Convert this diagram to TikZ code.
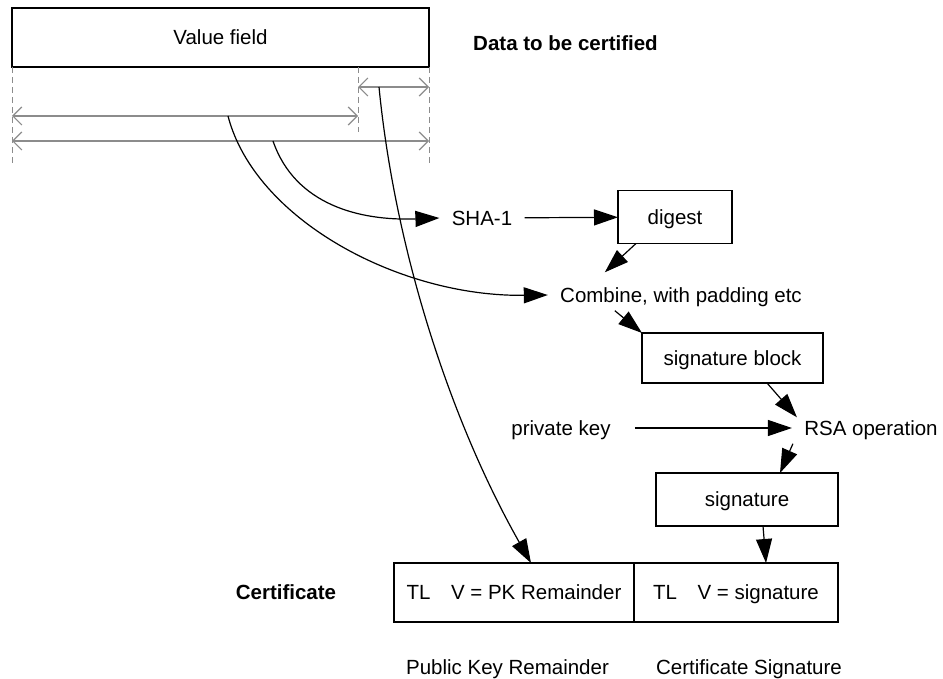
\documentclass[tikz,border=0pt]{standalone}
\usepackage{fontspec}
\setmainfont{Liberation Sans}
\usetikzlibrary{arrows.meta,positioning}

\begin{document}
\begin{tikzpicture}[x=0.5pt, y=-0.5pt,
			every node/.style={font=\fontsize{10.25}{12}\selectfont},
			box/.style={draw, line width=0.8pt, inner sep=0pt, outer sep=0pt, text height=7.3pt, text depth=0pt},
			lbl/.style={inner sep=0pt, text height=7.3pt, text depth=0pt},
			head/.style={lbl, font=\fontsize{10.25}{12}\selectfont\bfseries},
			ar/.style={-{Triangle[length=12pt,width=8pt]}, line width=0.6pt},
			dim/.style={{Straight Barb[length=4.5pt,width=9pt]}-{Straight Barb[length=4.5pt,width=9pt]}, draw=black!45, line width=0.6pt},
			ext/.style={draw=black!45, dash pattern=on 3pt off 2pt, line width=0.5pt}]
			\useasboundingbox (0,0) rectangle (943,679);
			\node[box, minimum width=208.5pt, minimum height=29.5pt] (value) at (220.5,37.5) {Value field};
			\node[head] (data) at (565.5,43) {Data to be certified};
			\coordinate (split) at (358,67);
			\coordinate (pkL) at (358,87);
			\coordinate (pkR) at (429,87);
			\coordinate (valL) at (12,116);
			\coordinate (valR) at (358,116);
			\coordinate (allL) at (12,141);
			\coordinate (allR) at (429,141);
			\coordinate (tapA) at (273,141);
			\coordinate (tapB) at (228,116);
			\coordinate (tapC) at (379,87);
			\draw[ext] (value.south west) -- ++(0,96);
			\draw[ext] (split) -- ++(0,65);
			\draw[ext] (value.south east) -- ++(0,97);
			\draw[dim] (pkL) -- (pkR);
			\draw[dim] (valL) -- (valR);
			\draw[dim] (allL) -- (allR);
			\node[lbl, inner xsep=6pt] (sha) at (482,218) {SHA-1};
			\node[box, minimum width=57pt, minimum height=26.5pt] (digest) at (675,217) {digest};
			\node[lbl, inner xsep=6pt] (combine) at (681,295) {Combine, with padding etc};
			\node[box, minimum width=90.5pt, minimum height=25pt] (sigblock) at (732.5,358) {signature block};
			\node[lbl] (privkey) at (561,428) {private key};
			\node[lbl, inner xsep=6pt] (rsa) at (871,428) {RSA operation};
			\node[box, minimum width=91pt, minimum height=26.5pt] (signature) at (747,499.5) {signature};
			\node[box, minimum width=120pt, minimum height=29.5pt] (pkrem) at (514,592.5) {TL\quad V = PK Remainder};
			\node[box, minimum width=102pt, minimum height=29.5pt, anchor=west] (sigtl) at (pkrem.east) {TL\quad V = signature};
			\node[head] (cert) at (286,592.5) {Certificate};
			\node[lbl] (pkcap) at (507.5,667) {Public Key Remainder};
			\node[lbl] (sigcap) at (749,667) {Certificate Signature};
			\draw[ar] (tapA) .. controls (295,205) and (360,221) .. (sha.west);
			\draw[ar] (tapB) .. controls (255,220) and (400,297) .. (combine.west);
			\draw[ar] (tapC) .. controls (395,250) and (450,420) .. ([shift={(17,0)}]pkrem.north);
			\draw[ar] (sha) -- (digest);
			\draw[ar] ([shift={(18,0)}]digest.south west) -- ([shift={(57,-15)}]combine.north west);
			\draw[ar] ([shift={(67,8)}]combine.south west) -- (sigblock.north west);
			\draw[ar] ([shift={(34.5,0)}]sigblock.south) -- ([shift={(5,-3)}]rsa.north west);
			\draw[ar] ([shift={(24,0)}]privkey.east) -- (rsa.west);
			\draw[ar] ([shift={(1,8)}]rsa.south west) -- ([shift={(33,0)}]signature.north);
			\draw[ar] ([shift={(16,0)}]signature.south) -- ([shift={(30,0)}]sigtl.north);
		\end{tikzpicture}
\end{document}
